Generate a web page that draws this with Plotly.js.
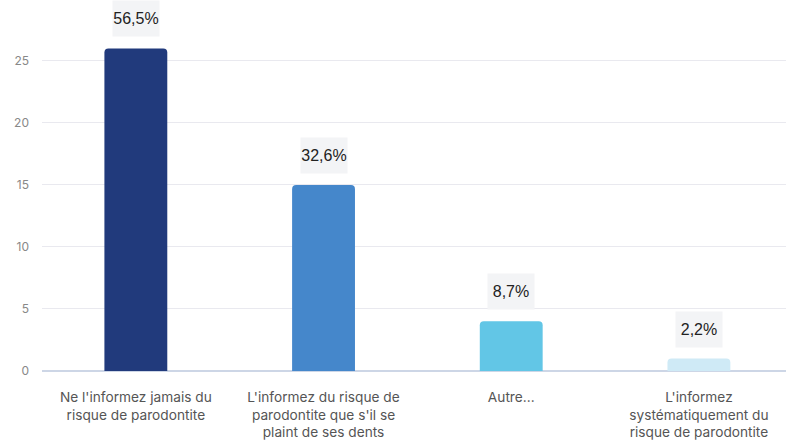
<!DOCTYPE html>
<html><head><meta charset="utf-8">
<script src="https://cdn.plot.ly/plotly-3.0.1.min.js"></script>
<style>html,body{margin:0;padding:0;background:#fff;}#chart{width:786px;height:441px;}</style>
</head><body><div id="chart"></div>
<script>
const categories = [
  "Ne l'informez jamais du<br>risque de parodontite",
  "L'informez du risque de<br>parodontite que s'il se<br>plaint de ses dents",
  "Autre...",
  "L'informez<br>systématiquement du<br>risque de parodontite"
];
const counts = [26, 15, 4, 1];
const percentLabels = ["56,5%", "32,6%", "8,7%", "2,2%"];
const barColors = ["#213a7c", "#4587cb", "#62c6e6", "#cfeaf6"];
const yTicks = [0, 5, 10, 15, 20, 25];

const annotations = categories.map((c, i) => ({
  x: i, y: counts[i], xref: 'x', yref: 'y',
  text: percentLabels[i], showarrow: false,
  yanchor: 'bottom', yshift: 11,
  width: 46, height: 35, bgcolor: '#f3f4f6', borderpad: 0,
  font: {family: 'Liberation Sans Narrow, Liberation Sans, Arial, sans-serif', size: 16, color: '#222'}
}));

Plotly.newPlot('chart', [{
  type: 'bar', x: [0,1,2,3], y: counts,
  marker: {color: barColors, cornerradius: 4},
  width: 0.335, hoverinfo: 'none'
}], {
  width: 786, height: 441,
  margin: {l: 42, r: 0, t: 0, b: 70},
  paper_bgcolor: '#fff', plot_bgcolor: '#fff',
  showlegend: false,
  font: {family: 'Inter, sans-serif'},
  xaxis: {
    range: [-0.5, 3.464], tickmode: 'array', tickvals: [0,1,2,3], ticktext: categories,
    showgrid: false, zeroline: false, showline: false, ticks: '',
    ticklabelstandoff: 16,
    tickfont: {size: 13.7, color: '#555'}, fixedrange: true
  },
  yaxis: {
    range: [0, 29.9], tickmode: 'array', tickvals: yTicks,
    showgrid: true, gridcolor: '#e9e9ef', gridwidth: 1,
    zeroline: true, zerolinecolor: '#cdd6e6', zerolinewidth: 2,
    showline: false, ticks: '', ticklabelstandoff: 12,
    tickfont: {size: 12, color: '#888'}
  },
  annotations: annotations
}, {displayModeBar: false, staticPlot: true});
</script></body></html>
